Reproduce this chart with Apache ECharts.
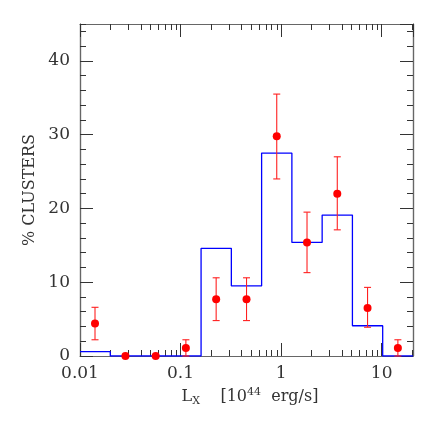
<!DOCTYPE html>
<html lang="en">
<head>
    <meta charset="UTF-8">
    <title>% clusters vs Lx</title>
    <script src="https://cdn.jsdelivr.net/npm/echarts@6/dist/echarts.min.js"></script>
    <style>
        html, body { margin: 0; padding: 0; background: #fff; }
    </style>
</head>
<body>
    <div id="main" style="width: 436px;height:436px;"></div>
</body>
<script>
    // histogram (blue): bin edges and heights
    var binEdges = [0.01, 0.02, 0.04, 0.08, 0.16, 0.32, 0.64, 1.28, 2.56, 5.12, 10.24, 20.48];
    var histPct = [0.6, 0, 0, 0, 14.6, 9.5, 27.5, 15.4, 19.1, 4.1, 0];

    // points (red) with error bars
    var pointX = [0.0141, 0.0283, 0.0566, 0.113, 0.226, 0.453, 0.905, 1.81, 3.62, 7.24, 14.5];
    var pointPct = [4.4, 0, 0, 1.1, 7.7, 7.7, 29.8, 15.4, 22.0, 6.5, 1.1];
    var errLow = [2.2, null, null, 0, 4.8, 4.8, 24.0, 11.3, 17.1, 3.9, 0];
    var errHigh = [6.6, null, null, 2.2, 10.6, 10.6, 35.5, 19.5, 27.0, 9.3, 2.2];

    // minor ticks of the log axis
    var minorTickVals = [0.02, 0.03, 0.04, 0.05, 0.06, 0.07, 0.08, 0.09,
        0.2, 0.3, 0.4, 0.5, 0.6, 0.7, 0.8, 0.9,
        2, 3, 4, 5, 6, 7, 8, 9, 20];

    var yMax = 45;
    var font = 'DejaVu Serif';
    var txt = '#333';
    var frame = '#666';
    var tickCol = '#333';

    var histData = [];
    for (var i = 0; i < histPct.length; i++) {
        histData.push([binEdges[i], histPct[i]]);
    }
    histData.push([binEdges[binEdges.length - 1], 0]);

    var pointData = pointX.map(function (x, i) { return [x, pointPct[i]]; });
    var errData = [];
    pointX.forEach(function (x, i) {
        if (errLow[i] !== null) errData.push([x, errLow[i], errHigh[i]]);
    });

    function logLabel(v) {
        var l = Math.log(v) / Math.LN10;
        if (Math.abs(l - Math.round(l)) > 1e-6) return '';
        return String(+v.toPrecision(6));
    }

    function yAx(pos, interval, len, labels) {
        return {
            type: 'value', position: pos, min: 0, max: yMax, interval: interval,
            axisLine: { show: true, onZero: false, lineStyle: { color: frame, width: 1.2 } },
            axisTick: { show: true, inside: true, length: len, lineStyle: { color: tickCol, width: 1 } },
            axisLabel: {
                show: labels, margin: 10, showMaxLabel: false,
                fontFamily: font, fontSize: 17, color: txt
            },
            splitLine: { show: false }
        };
    }

    var myChart = echarts.init(document.getElementById('main'));

    var yLeft = yAx('left', 10, 13, true);
    yLeft.name = '% CLUSTERS';
    yLeft.nameLocation = 'middle';
    yLeft.nameGap = 42;
    yLeft.nameTextStyle = { fontFamily: font, fontSize: 16, color: txt };

    var option = {
        animation: false,
        grid: { left: 80, right: 23, top: 24, bottom: 80 },
        xAxis: [{
            type: 'log', logBase: 10, min: 0.01, max: 20.5, position: 'bottom',
            axisLine: { show: true, onZero: false, lineStyle: { color: frame, width: 1.2 } },
            axisTick: { show: true, inside: true, length: 13, lineStyle: { color: tickCol, width: 1 } },
            axisLabel: {
                margin: 9, showMinLabel: true, showMaxLabel: false,
                fontFamily: font, fontSize: 17, color: txt,
                formatter: logLabel
            },
            splitLine: { show: false },
            name: '{m|L}{sub|X}{m|    [10}{sup|44}{m|  erg/s]}',
            nameLocation: 'middle',
            nameGap: 24,
            nameTextStyle: {
                fontFamily: font, fontSize: 16, color: txt, padding: [0, 0, 0, 7],
                rich: {
                    m: { fontFamily: font, fontSize: 16, color: txt, lineHeight: 20 },
                    sub: { fontFamily: font, fontSize: 11, color: txt, lineHeight: 10, verticalAlign: 'bottom' },
                    sup: { fontFamily: font, fontSize: 11, color: txt, lineHeight: 11, verticalAlign: 'top' }
                }
            }
        }, {
            type: 'log', logBase: 10, min: 0.01, max: 20.5, position: 'top',
            axisLine: { show: true, onZero: false, lineStyle: { color: frame, width: 1.2 } },
            axisTick: { show: true, inside: true, length: 13, lineStyle: { color: tickCol, width: 1 } },
            axisLabel: { show: false },
            splitLine: { show: false }
        }],
        yAxis: [
            yLeft,
            yAx('left', 2, 6, false),
            yAx('right', 10, 13, false),
            yAx('right', 2, 6, false)
        ],
        series: [{
            // minor ticks of the log x axis, bottom and top
            type: 'custom',
            xAxisIndex: 0, yAxisIndex: 0,
            silent: true,
            clip: false,
            data: minorTickVals.map(function (v) { return [v, 0]; }),
            renderItem: function (params, api) {
                var v = api.value(0);
                var b = api.coord([v, 0]);
                var t = api.coord([v, yMax]);
                var x = Math.round(b[0]) + 0.5;
                var st = { stroke: tickCol, lineWidth: 1 };
                return {
                    type: 'group',
                    children: [
                        { type: 'line', shape: { x1: x, y1: b[1], x2: x, y2: b[1] - 6 }, style: st },
                        { type: 'line', shape: { x1: x, y1: t[1], x2: x, y2: t[1] + 6 }, style: st }
                    ]
                };
            }
        }, {
            type: 'line',
            xAxisIndex: 0, yAxisIndex: 0,
            step: 'end',
            data: histData,
            symbol: 'none',
            lineStyle: { color: '#0000ff', width: 1.3 },
            z: 3
        }, {
            type: 'custom',
            xAxisIndex: 0, yAxisIndex: 0,
            data: errData,
            renderItem: function (params, api) {
                var x = api.value(0);
                var lo = api.coord([x, api.value(1)]);
                var hi = api.coord([x, api.value(2)]);
                var w = 3.5;
                var st = { stroke: '#ff2020', lineWidth: 1.1 };
                return {
                    type: 'group',
                    children: [
                        { type: 'line', shape: { x1: lo[0], y1: lo[1], x2: hi[0], y2: hi[1] }, style: st },
                        { type: 'line', shape: { x1: hi[0] - w, y1: hi[1], x2: hi[0] + w, y2: hi[1] }, style: st },
                        { type: 'line', shape: { x1: lo[0] - w, y1: lo[1], x2: lo[0] + w, y2: lo[1] }, style: st }
                    ]
                };
            },
            z: 4
        }, {
            type: 'scatter',
            xAxisIndex: 0, yAxisIndex: 0,
            data: pointData,
            symbol: 'circle',
            symbolSize: 8,
            itemStyle: { color: '#ff0000', opacity: 1 },
            z: 5
        }]
    };

    myChart.setOption(option);
</script>
</html>
